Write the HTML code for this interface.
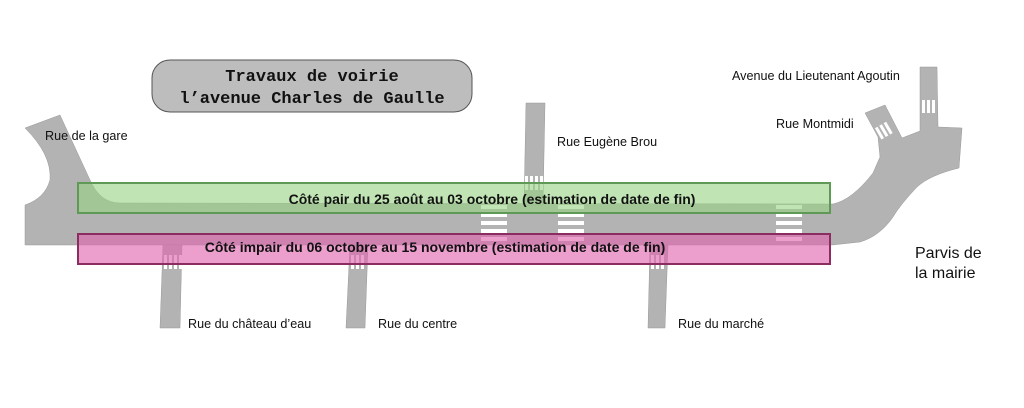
<!DOCTYPE html>
<html><head><meta charset="utf-8"><style>
html,body{margin:0;padding:0;background:#fff;}
svg{display:block;}
.l{font-family:"Liberation Sans",sans-serif;font-size:12.6px;fill:#111;}
.b{font-family:"Liberation Sans",sans-serif;font-size:14px;font-weight:bold;fill:#111;}
.t{font-family:"Liberation Mono",monospace;font-size:17px;font-weight:bold;fill:#111;}
</style></head><body>
<svg width="1024" height="408" viewBox="0 0 1024 408" xmlns="http://www.w3.org/2000/svg">
<g fill="#b3b3b3" stroke="#999" stroke-width="0.5">
<path d="M25,128 L60,115 L90,180 Q100,203 120,203 L833,204 Q852,200 873,173 L880,157 L878,137 L865,113 L885,105 L902,138 L920,131 L920,67 L937,67 L938,127 L962,128 L959,168 Q930,175 917,187 Q900,205 893,217 Q880,236 860,242 L832,245 L25,245 L25,205 Q45,198 50,180 Q52,155 25,128 Z"/>
<path d="M526,103 L545,103 L543,205 L524,205 Z"/>
<path d="M163,245 L182,245 L180,328 L160,328 Z"/>
<path d="M350,245 L368,245 L365,328 L346,328 Z"/>
<path d="M650,245 L668,245 L665,328 L648,328 Z"/>
</g>
<g fill="#fff">
<rect x="481" y="205" width="26" height="4"/><rect x="481" y="213" width="26" height="4"/><rect x="481" y="221" width="26" height="4"/><rect x="481" y="229" width="26" height="4"/><rect x="481" y="237" width="26" height="4"/>
<rect x="558" y="205" width="26" height="4"/><rect x="558" y="213" width="26" height="4"/><rect x="558" y="221" width="26" height="4"/><rect x="558" y="229" width="26" height="4"/><rect x="558" y="237" width="26" height="4"/>
<rect x="776" y="205" width="26" height="4"/><rect x="776" y="213" width="26" height="4"/><rect x="776" y="221" width="26" height="4"/><rect x="776" y="229" width="26" height="4"/><rect x="776" y="237" width="26" height="4"/>
<rect x="525" y="176" width="3" height="14"/><rect x="530" y="176" width="3" height="14"/><rect x="535" y="176" width="3" height="14"/><rect x="540" y="176" width="3" height="14"/>
<rect x="164" y="255" width="3" height="14"/><rect x="169" y="255" width="3" height="14"/><rect x="174" y="255" width="3" height="14"/><rect x="179" y="255" width="3" height="14"/>
<rect x="351" y="255" width="3" height="14"/><rect x="356" y="255" width="3" height="14"/><rect x="361" y="255" width="3" height="14"/>
<rect x="651" y="255" width="3" height="14"/><rect x="656" y="255" width="3" height="14"/><rect x="661" y="255" width="3" height="14"/>
<rect x="922" y="100" width="3" height="13"/><rect x="927" y="100" width="3" height="13"/><rect x="932" y="100" width="3" height="13"/>
<g transform="translate(884,130) rotate(-30)"><rect x="-7" y="-6" width="3" height="13"/><rect x="-2" y="-6" width="3" height="13"/><rect x="3" y="-6" width="3" height="13"/></g>
</g>
<rect x="78" y="183" width="752" height="30" fill="rgba(150,210,130,0.6)" stroke="#5e9a55" stroke-width="2"/>
<rect x="78" y="234" width="752" height="30" fill="rgba(225,100,175,0.62)" stroke="#8c2d62" stroke-width="2"/>
<text class="b" x="492" y="204" text-anchor="middle">Côté pair du 25 août au 03 octobre (estimation de date de fin)</text>
<text class="b" x="435" y="252" text-anchor="middle">Côté impair du 06 octobre  au 15 novembre (estimation de date de fin)</text>
<rect x="152" y="60" width="320" height="52" rx="18" fill="#bdbdbd" stroke="#555" stroke-width="1"/>
<text class="t" x="312" y="81" text-anchor="middle">Travaux de voirie</text>
<text class="t" x="312" y="103" text-anchor="middle">l’avenue Charles de Gaulle</text>
<text class="l" x="45" y="140">Rue de la gare</text>
<text class="l" x="557" y="146">Rue Eugène Brou</text>
<text class="l" x="732" y="80">Avenue du Lieutenant Agoutin</text>
<text class="l" x="776" y="128">Rue Montmidi</text>
<text class="l" x="188" y="328">Rue du château d’eau</text>
<text class="l" x="378" y="328">Rue du centre</text>
<text class="l" x="678" y="328">Rue du marché</text>
<text class="l" x="915" y="258" style="font-size:16px">Parvis de</text>
<text class="l" x="915" y="278" style="font-size:16px">la mairie</text>
</svg>
</body></html>
